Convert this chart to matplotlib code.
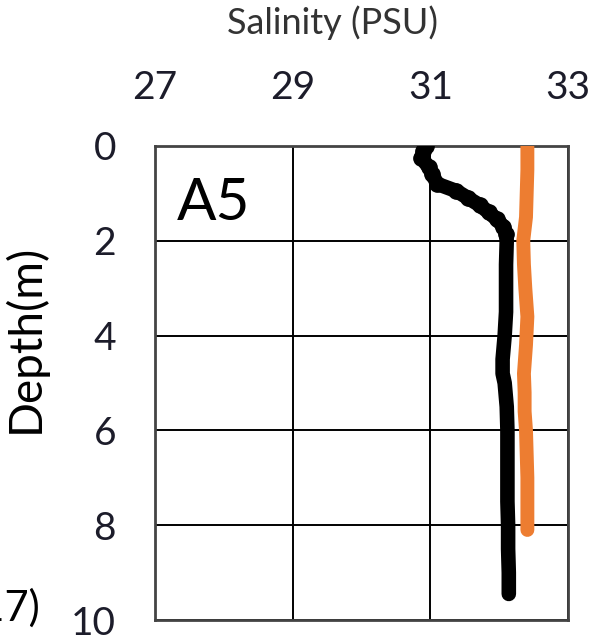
import numpy as np
import matplotlib.pyplot as plt

plt.rcParams['font.family'] = ['Lato', 'DejaVu Sans']

# station A5 profile (black) and second profile (orange)
depth_a5 = [0.0, 0.1, 0.25, 0.45, 0.6, 0.8, 0.95, 1.1, 1.25, 1.4, 1.55, 1.7,
            1.85, 2.0, 2.5, 3.0, 3.5, 4.0, 4.5, 4.8, 5.0, 5.5, 6.0, 6.5, 7.0,
            7.5, 8.0, 8.5, 9.0, 9.45]
sal_a5 = [30.93, 30.90, 30.87, 30.98, 31.03, 31.10, 31.38, 31.55, 31.72, 31.85,
          31.97, 32.06, 32.10, 32.11, 32.10, 32.10, 32.10, 32.08, 32.05, 32.05,
          32.08, 32.11, 32.12, 32.12, 32.12, 32.12, 32.13, 32.13, 32.14, 32.14]

depth_b = [0.0, 0.5, 1.0, 1.5, 2.0, 2.5, 3.0, 3.6, 4.2, 4.8, 5.2, 5.6, 6.0,
           6.5, 7.0, 7.5, 8.1]
sal_b = [32.41, 32.41, 32.40, 32.39, 32.35, 32.36, 32.38, 32.41, 32.39, 32.36,
         32.37, 32.37, 32.39, 32.40, 32.41, 32.41, 32.41]

xticks = [27, 29, 31, 33]
yticks = [0, 2, 4, 6, 8, 10]

fig = plt.figure(figsize=(5.9, 6.35), dpi=100)
ax = fig.add_axes([0.2627, 0.0236, 0.70, 0.7465])

ax.plot(sal_b, depth_b, color='#ED7D31', lw=10, solid_capstyle='round', zorder=3)
ax.plot(sal_a5, depth_a5, color='black', lw=10.5, solid_capstyle='round',
        solid_joinstyle='round', marker='o', ms=11, markevery=range(13), zorder=4)

ax.set_xlim(27, 33)
ax.set_ylim(10, 0)
ax.set_xticks(xticks)
ax.set_yticks(yticks)
ax.xaxis.tick_top()
ax.xaxis.set_label_position('top')
ax.tick_params(axis='both', length=0, labelsize=28, colors='#1c1c2a')
ax.tick_params(axis='x', pad=29)
ax.tick_params(axis='y', pad=28)
ax.grid(True, color='black', lw=1.4)
for s in ax.spines.values():
    s.set_color('#444444')
    s.set_linewidth(2)

ax.set_xlabel('Salinity (PSU)', fontsize=26, color='#333333')
ax.xaxis.set_label_coords(0.43, 1.237)
ax.set_ylabel('Depth(m)', fontsize=33, color='black')
ax.yaxis.set_label_coords(-0.262, 0.595)

ax.text(27.32, 1.56, 'A5', fontsize=42, ha='left', va='baseline', color='black')

fig.text(40 / 590, 1 - 608 / 635, '2017)', fontsize=30, ha='right', va='center')

fig.savefig('out.png', dpi=100)
